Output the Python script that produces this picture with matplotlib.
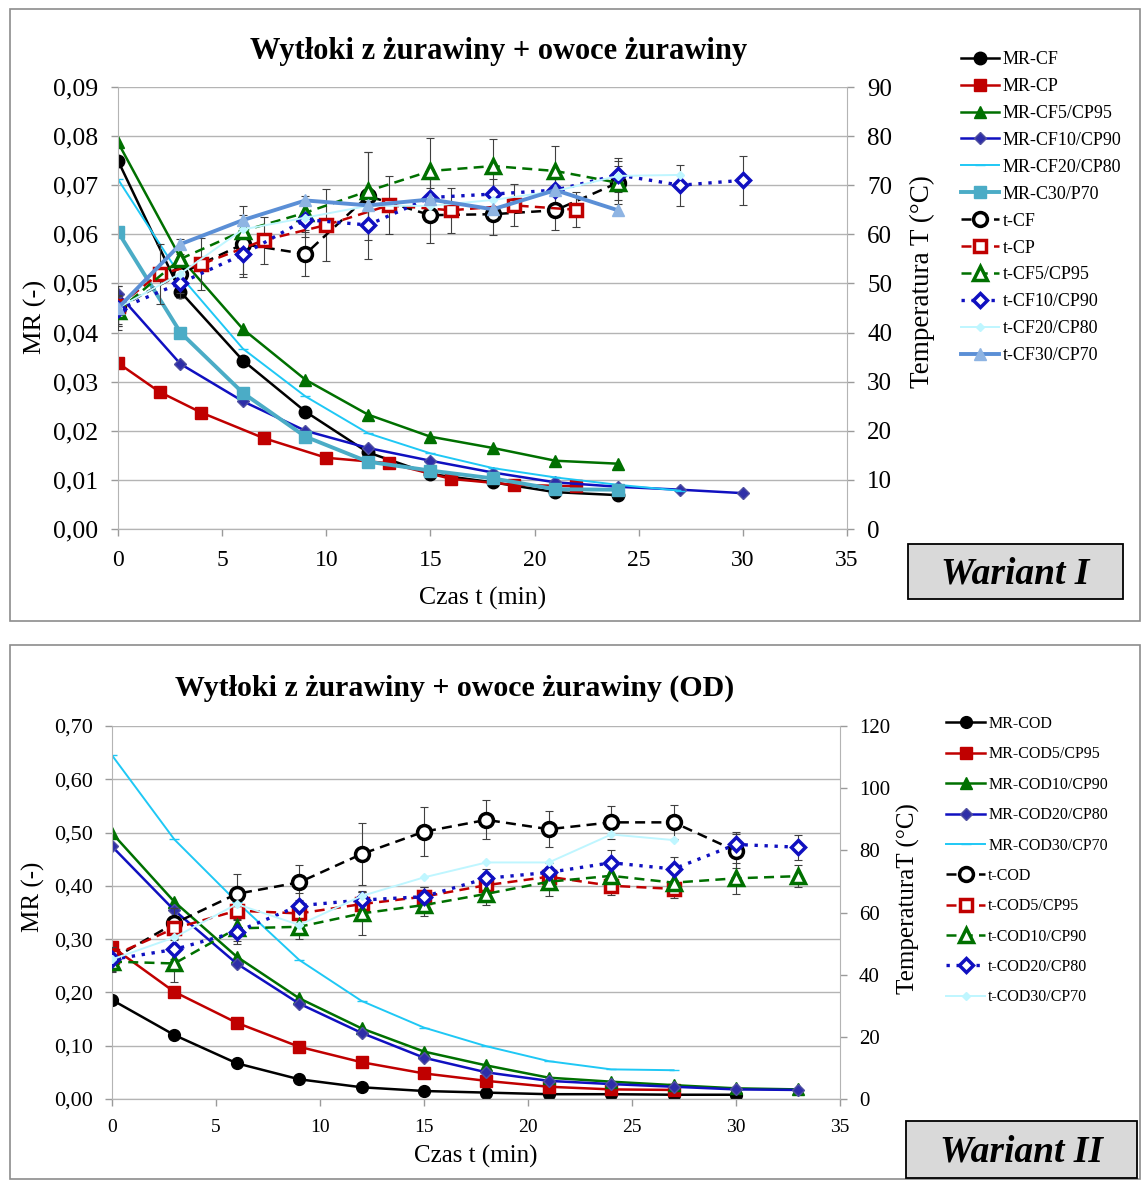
import numpy as np
import matplotlib
matplotlib.use('Agg')
import matplotlib.pyplot as plt
from matplotlib.patches import Rectangle
from matplotlib.ticker import FuncFormatter

plt.rcParams['font.family'] = ['Liberation Serif', 'DejaVu Serif']

W, H = 1141, 1180

# ---------------- Wariant I data ----------------
t_cf = [0, 3, 6, 9, 12, 15, 18, 21, 24]
mr_cf = [0.0750, 0.0483, 0.0343, 0.0239, 0.0156, 0.0112, 0.0095, 0.0075, 0.0069]
t_cp = [0, 2, 4, 7, 10, 13, 16, 19, 22]
mr_cp = [0.0338, 0.0279, 0.0237, 0.0185, 0.0145, 0.0134, 0.0102, 0.0090, 0.0087]
t_cf5 = [0, 3, 6, 9, 12, 15, 18, 21, 24]
mr_cf5 = [0.0787, 0.0552, 0.0407, 0.0304, 0.0233, 0.0188, 0.0165, 0.0139, 0.0133]
t_cf10 = [0, 3, 6, 9, 12, 15, 18, 21, 24, 27, 30]
mr_cf10 = [0.0479, 0.0336, 0.0260, 0.0200, 0.0165, 0.0139, 0.0115, 0.0095, 0.0086, 0.0080, 0.0073]
t_cf20 = [0, 3, 6, 9, 12, 15, 18, 21, 24, 27]
mr_cf20 = [0.0712, 0.0515, 0.0367, 0.0270, 0.0195, 0.0154, 0.0124, 0.0105, 0.0090, 0.0078]
t_c30 = [0, 3, 6, 9, 12, 15, 18, 21, 24]
mr_c30 = [0.0605, 0.0400, 0.0277, 0.0188, 0.0137, 0.0119, 0.0103, 0.0081, 0.0080]

temp_cf = [45, 52, 58, 56, 67.8, 63.9, 64.1, 64.9, 70.5]
err_cf = [4.4, 4, 6, 4.5, 9, 5.6, 4.2, 4, 3.5]
temp_cp = [45.4, 52, 53.9, 58.8, 61.9, 65.9, 64.9, 65.9, 65]
err_cp = [4, 6.1, 5.3, 4.8, 7.4, 5.9, 4.6, 4.3, 3.6]
temp_cf5 = [44.4, 55, 60.7, 64.4, 68.8, 72.9, 73.9, 72.9, 70.5]
err_cf5 = [3, 4, 5, 3.5, 8, 6.8, 5.5, 5, 4.4]
temp_cf10 = [44.7, 50.1, 55.9, 63, 61.9, 67.5, 68.2, 69, 72.1, 70, 71]
err_cf10 = [3, 3, 4.5, 3.5, 7, 4, 3, 3, 3.5, 4.2, 5]
temp_cf20 = [45, 52, 61, 63.4, 65.8, 65.8, 67, 68.8, 71.9, 72.1]
temp_cf30 = [45, 58, 62.9, 66.9, 65.9, 67.1, 65.1, 69, 64.9]

# ---------------- Wariant II data ----------------
t_od = [0, 3, 6, 9, 12, 15, 18, 21, 24, 27, 30]
mr_cod = [0.186, 0.120, 0.067, 0.037, 0.022, 0.015, 0.012, 0.009, 0.009, 0.008, 0.008]
t_od5 = [0, 3, 6, 9, 12, 15, 18, 21, 24, 27]
mr_cod5 = [0.2856, 0.201, 0.143, 0.098, 0.069, 0.048, 0.034, 0.023, 0.018, 0.017]
t_od10 = [0, 3, 6, 9, 12, 15, 18, 21, 24, 27, 30, 33]
mr_cod10 = [0.499, 0.370, 0.267, 0.189, 0.1325, 0.089, 0.063, 0.040, 0.0325, 0.026, 0.020, 0.018]
t_od20 = [0, 3, 6, 9, 12, 15, 18, 21, 24, 27, 30, 33]
mr_cod20 = [0.474, 0.354, 0.254, 0.179, 0.124, 0.0775, 0.050, 0.034, 0.028, 0.023, 0.018, 0.017]
t_od30 = [0, 3, 6, 9, 12, 15, 18, 21, 24, 27]
mr_cod30 = [0.645, 0.487, 0.370, 0.261, 0.184, 0.134, 0.099, 0.071, 0.0556, 0.054]

temp_cod = [45, 56.5, 66, 69.7, 78.8, 86, 89.8, 86.8, 89, 89, 79.8]
err_cod = [4, 5, 6.4, 5.6, 10, 7.8, 6.3, 5.8, 5.2, 5.5, 5.5]
temp_cod5 = [46, 54.9, 60.6, 59.7, 62.7, 65.1, 68.8, 71.5, 68.6, 67.6]
err_cod5 = [3, 3, 3, 3, 4, 3, 3, 3, 3, 3]
temp_cod10 = [44.2, 43.6, 54.9, 55.4, 59.7, 62.4, 66, 69.9, 71.8, 69.6, 71, 71.7]
err_cod10 = [3, 6, 4, 4, 7, 3.5, 3.5, 4.5, 4, 3, 5, 3.5]
temp_cod20 = [44.9, 48.1, 53.8, 62.2, 64, 65.1, 71, 72.9, 76, 74, 81.9, 81]
err_cod20 = [3, 3, 4, 4, 3, 3, 3, 3, 4, 4, 4, 4]
temp_cod30 = [44.9, 52, 62.7, 56, 65.3, 71.3, 76.1, 76.1, 85.1, 83.3]

colors = {
    'black': '#000000',
    'red': '#C00000',
    'green': '#007000',
    'blue': '#1010C0',
    'diam': '#2E2EA8',
    'cyan': '#1FC8F5',
    'teal': '#4BACC6',
    'pale': '#BFF6FF',
    'corn': '#5B8FD6',
    'cornfill': '#8EB4E3',
    'grid': '#B4B4B4',
    'err': '#404040',
}

fig = plt.figure(figsize=(W / 100, H / 100), dpi=100)


def fx(px):
    return px / W


def fy(py):
    return 1 - py / H


# panel frames
fig.patches.append(Rectangle((fx(10), fy(621)), fx(1140) - fx(10), fy(9) - fy(621),
                             transform=fig.transFigure, fill=False, edgecolor='#8C8C8C', lw=1.2))
fig.patches.append(Rectangle((fx(10), fy(1179)), fx(1140) - fx(10), fy(645) - fy(1179),
                             transform=fig.transFigure, fill=False, edgecolor='#8C8C8C', lw=1.2))


def comma(dec):
    return FuncFormatter(lambda v, p: f'{v:.{dec}f}'.replace('.', ','))


def style_axes(ax, ax2, xfs, yfs, rfs, xpad, ypad):
    for a in (ax, ax2):
        a.spines['top'].set_visible(False)
        for s in ('left', 'right', 'bottom'):
            a.spines[s].set_color('#B4B4B4')
        a.tick_params(colors='#9A9A9A', labelcolor='black', length=5, width=1)
    ax.tick_params(axis='x', labelsize=xfs, pad=xpad)
    ax.tick_params(axis='y', labelsize=yfs, pad=ypad)
    ax2.tick_params(axis='y', labelsize=rfs, pad=ypad)
    ax.grid(axis='y', color=colors['grid'], lw=1)
    ax.set_axisbelow(True)
    ax2.spines['left'].set_visible(False)
    ax.spines['right'].set_visible(False)


def place_labels(ax, ax2, yl, yl_y, xy, rx, rx_y):
    ax.xaxis.set_label_coords(0.5, xy)
    ax.xaxis.label.set_va('center')
    ax.yaxis.set_label_coords(yl, yl_y)
    ax.yaxis.label.set_va('center')
    ax2.yaxis.set_label_coords(rx, rx_y)
    ax2.yaxis.label.set_va('center')


def mr_line(ax, x, y, color, marker, ms, lw=1.8, mfc=None, mec=None, label=''):
    return ax.plot(x, y, color=color, lw=lw, marker=marker, ms=ms,
                   mfc=mfc or color, mec=mec or color, label=label)[0]


def t_line(ax, x, y, color, marker, ms, ls, err=None, lw=1.8, label=''):
    if err is not None:
        ax.errorbar(x, y, yerr=err, fmt='none', ecolor=colors['err'], elinewidth=0.8,
                    capsize=3, capthick=0.8, zorder=1)
    return ax.plot(x, y, color=color, lw=lw, ls=ls, marker=marker, ms=ms, mfc='white',
                   mec=color, mew=2.5, label=label)[0]


# ================= Wariant I =================
ax = fig.add_axes([fx(118), fy(529), fx(847) - fx(118), fy(87) - fy(529)])
ax2 = ax.twinx()
style_axes(ax, ax2, 17, 18.5, 18, 10, 9.5)

h = []
h.append(mr_line(ax, t_cf, mr_cf, colors['black'], 'o', 9, label='MR-CF'))
h.append(mr_line(ax, t_cp, mr_cp, colors['red'], 's', 8, label='MR-CP'))
h.append(mr_line(ax, t_cf5, mr_cf5, colors['green'], '^', 9, label='MR-CF5/CP95'))
h.append(mr_line(ax, t_cf10, mr_cf10, colors['blue'], 'D', 6.5, mfc=colors['diam'], mec='#5050A0', label='MR-CF10/CP90'))
h.append(mr_line(ax, t_cf20, mr_cf20, colors['cyan'], '_', 7, lw=1.4, label='MR-CF20/CP80'))
h.append(mr_line(ax, t_c30, mr_c30, colors['teal'], 's', 9, lw=2.8, label='MR-C30/P70'))

h.append(t_line(ax2, t_cf, temp_cf, colors['black'], 'o', 10, (0, (4, 2.5)), err_cf, label='t-CF'))
h.append(t_line(ax2, t_cp, temp_cp, colors['red'], 's', 9, (0, (4, 2.5)), err_cp, label='t-CP'))
h.append(t_line(ax2, t_cf5, temp_cf5, colors['green'], '^', 10, (0, (4, 2.5)), err_cf5, label='t-CF5/CP95'))
h.append(t_line(ax2, t_cf10, temp_cf10, colors['blue'], 'D', 7, (0, (1, 2)), err_cf10, lw=2.4, label='t-CF10/CP90'))
h.append(ax2.plot(t_cf20, temp_cf20, color=colors['pale'], lw=1.4, marker='D', ms=4,
                  label='t-CF20/CP80')[0])
h.append(ax2.plot(t_c30, temp_cf30, color=colors['corn'], lw=2.8, marker='^', ms=9,
                  mfc=colors['cornfill'], mec=colors['cornfill'], label='t-CF30/CP70')[0])

ax.set_xlim(0, 35)
ax.set_ylim(0, 0.09)
ax.set_xticks(np.arange(0, 36, 5))
ax.set_yticks(np.arange(0, 0.0901, 0.01))
ax.yaxis.set_major_formatter(comma(2))
ax2.set_ylim(0, 90)
ax2.set_yticks(np.arange(0, 91, 10))
ax.set_xlabel('Czas t (min)', fontsize=18.5)
ax.set_ylabel('MR (-)', fontsize=19)
ax2.set_ylabel('Temperatura T (°C)', fontsize=19.5)
place_labels(ax, ax2, (35 - 118) / 729, (529 - 317) / 442, (529 - 598) / 442,
             (922 - 118) / 729, (529 - 282) / 442)
ax.set_title('Wytłoki z żurawiny + owoce żurawiny', fontsize=22, fontweight='bold',
             x=(499 - 118) / 729, y=(529 - 52) / 442, pad=0, va='center')

fig.legend(h, [l.get_label() for l in h], loc='upper left', bbox_to_anchor=(fx(961), fy(51)),
           frameon=False, fontsize=13, handlelength=2.1, handletextpad=0.2,
           labelspacing=0.55, borderpad=0, borderaxespad=0)

fig.patches.append(Rectangle((fx(908), fy(599)), fx(1123) - fx(908), fy(544) - fy(599),
                             transform=fig.transFigure, facecolor='#D9D9D9', edgecolor='black', lw=1.3))
fig.text(fx(1015), fy(574), 'Wariant I', fontsize=27, fontweight='bold', style='italic',
         ha='center', va='center')

# ================= Wariant II =================
bx = fig.add_axes([fx(112), fy(1099), fx(840) - fx(112), fy(726) - fy(1099)])
bx2 = bx.twinx()
style_axes(bx, bx2, 14, 16, 15, 9.5, 8.5)

g = []
g.append(mr_line(bx, t_od, mr_cod, colors['black'], 'o', 8.5, label='MR-COD'))
g.append(mr_line(bx, t_od5, mr_cod5, colors['red'], 's', 8, label='MR-COD5/CP95'))
g.append(mr_line(bx, t_od10, mr_cod10, colors['green'], '^', 8, label='MR-COD10/CP90'))
g.append(mr_line(bx, t_od20, mr_cod20, colors['blue'], 'D', 6, mfc=colors['diam'], mec='#5050A0', label='MR-COD20/CP80'))
g.append(mr_line(bx, t_od30, mr_cod30, colors['cyan'], '_', 7, lw=1.4, label='MR-COD30/CP70'))

g.append(t_line(bx2, t_od, temp_cod, colors['black'], 'o', 10, (0, (4, 2.5)), err_cod, label='t-COD'))
g.append(t_line(bx2, t_od5, temp_cod5, colors['red'], 's', 9, (0, (4, 2.5)), err_cod5, label='t-COD5/CP95'))
g.append(t_line(bx2, t_od10, temp_cod10, colors['green'], '^', 10, (0, (4, 2.5)), err_cod10, label='t-COD10/CP90'))
g.append(t_line(bx2, t_od20, temp_cod20, colors['blue'], 'D', 7, (0, (1, 2)), err_cod20, lw=2.4, label='t-COD20/CP80'))
g.append(bx2.plot(t_od30, temp_cod30, color=colors['pale'], lw=1.4, marker='D', ms=4,
                  label='t-COD30/CP70')[0])

bx.set_xlim(0, 35)
bx.set_ylim(0, 0.70)
bx.set_xticks(np.arange(0, 36, 5))
bx.set_yticks(np.arange(0, 0.701, 0.1))
bx.yaxis.set_major_formatter(comma(2))
bx2.set_ylim(0, 120)
bx2.set_yticks(np.arange(0, 121, 20))
bx.set_xlabel('Czas t (min)', fontsize=18)
bx.set_ylabel('MR (-)', fontsize=18)
bx2.set_ylabel('TemperaturaT (°C)', fontsize=18)
place_labels(bx, bx2, (33 - 112) / 728, (1099 - 897) / 373, (1099 - 1156) / 373,
             (908 - 112) / 728, (1099 - 899) / 373)
bx.set_title('Wytłoki z żurawiny + owoce żurawiny (OD)', fontsize=21.5, fontweight='bold',
             x=(455 - 112) / 728, y=(1099 - 688) / 373, pad=0, va='center')

fig.legend(g, [l.get_label() for l in g], loc='upper left', bbox_to_anchor=(fx(946), fy(716)),
           frameon=False, fontsize=11.5, handlelength=2.45, handletextpad=0.2,
           labelspacing=0.9, borderpad=0, borderaxespad=0)

fig.patches.append(Rectangle((fx(906), fy(1178)), fx(1137) - fx(906), fy(1121) - fy(1178),
                             transform=fig.transFigure, facecolor='#D9D9D9', edgecolor='black', lw=1.3))
fig.text(fx(1021), fy(1152), 'Wariant II', fontsize=27, fontweight='bold', style='italic',
         ha='center', va='center')

fig.savefig('out.png', dpi=100)
